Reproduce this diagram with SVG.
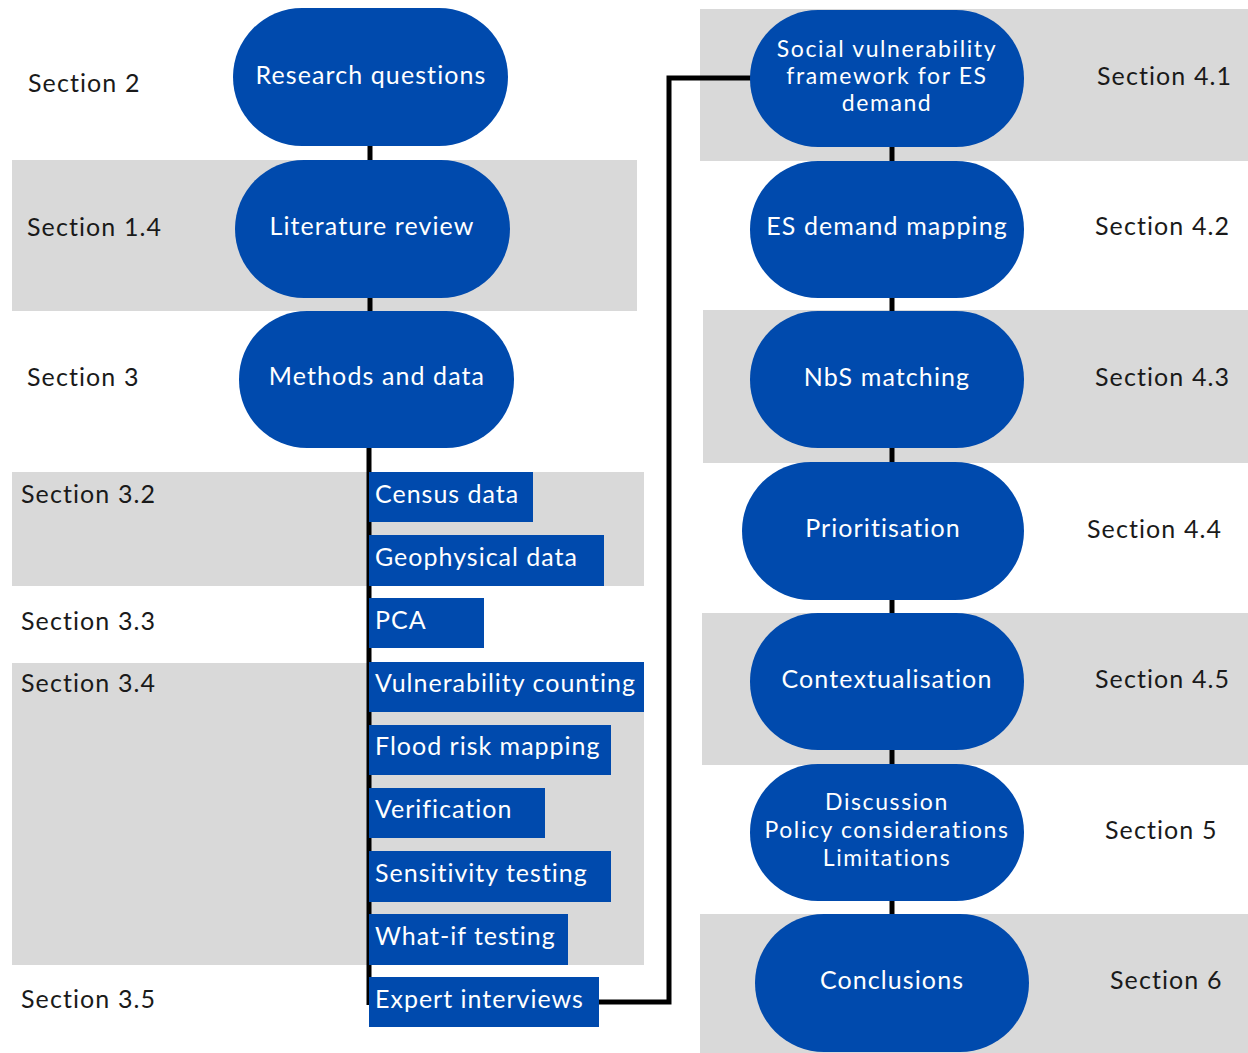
<svg xmlns="http://www.w3.org/2000/svg" width="1248" height="1053" viewBox="0 0 1248 1053">
  <style>
    .band { fill: #d9d9d9; }
    .pill { fill: #004aad; }
    .box { fill: #004aad; }
    .ptxt { font-family: Lato, "Liberation Sans", sans-serif; font-size: 25px; fill: #ffffff; text-anchor: middle; letter-spacing: 1.1px; }
    .mtxt { font-family: Lato, "Liberation Sans", sans-serif; font-size: 23px; fill: #ffffff; text-anchor: middle; letter-spacing: 1.6px; }
    .btxt { font-family: Lato, "Liberation Sans", sans-serif; font-size: 25px; fill: #ffffff; letter-spacing: 1px; }
    .sec { font-family: Lato, "Liberation Sans", sans-serif; font-size: 25px; fill: #1a1a1a; letter-spacing: 1.1px; }
    .wire { fill: none; stroke: #000000; stroke-width: 5; }
  </style>
  <rect width="1248" height="1053" fill="#ffffff"/>

  <!-- shaded section bands -->
  <g id="bands">
    <rect class="band" x="12" y="160" width="625" height="151"/>
    <rect class="band" x="12" y="472" width="632" height="114"/>
    <rect class="band" x="12" y="663" width="632" height="302"/>
    <rect class="band" x="700" y="9" width="548" height="152"/>
    <rect class="band" x="703" y="310" width="545" height="153"/>
    <rect class="band" x="702" y="613" width="546" height="152"/>
    <rect class="band" x="700" y="914" width="548" height="139"/>
  </g>

  <!-- connectors -->
  <g id="connectors">
    <line class="wire" x1="370" y1="140" x2="370" y2="165"/>
    <line class="wire" x1="370" y1="292" x2="370" y2="316"/>
    <line class="wire" x1="369" y1="440" x2="369" y2="1005"/>
    <polyline class="wire" points="596,1002 669,1002 669,78 755,78"/>
    <line class="wire" x1="892" y1="140" x2="892" y2="166"/>
    <line class="wire" x1="892" y1="292" x2="892" y2="316"/>
    <line class="wire" x1="892" y1="443" x2="892" y2="467"/>
    <line class="wire" x1="892" y1="594" x2="892" y2="618"/>
    <line class="wire" x1="892" y1="744" x2="892" y2="769"/>
    <line class="wire" x1="892" y1="895" x2="892" y2="919"/>
  </g>

  <!-- left column: main steps -->
  <g id="research-questions">
    <rect class="pill" x="233" y="8" width="275" height="138" rx="69"/>
    <text class="ptxt" x="371" y="84">Research questions</text>
  </g>
  <g id="literature-review">
    <rect class="pill" x="235" y="160" width="275" height="138" rx="69"/>
    <text class="ptxt" x="372" y="235">Literature review</text>
  </g>
  <g id="methods-and-data">
    <rect class="pill" x="239" y="311" width="275" height="137" rx="68"/>
    <text class="ptxt" x="377" y="385">Methods and data</text>
  </g>

  <!-- left column: method sub-steps -->
  <g id="census-data">
    <rect class="box" x="369" y="472" width="164" height="50"/>
    <text class="btxt" x="375" y="503">Census data</text>
  </g>
  <g id="geophysical-data">
    <rect class="box" x="369" y="535" width="235" height="51"/>
    <text class="btxt" x="375" y="566">Geophysical data</text>
  </g>
  <g id="pca">
    <rect class="box" x="369" y="598" width="115" height="50"/>
    <text class="btxt" x="375" y="629">PCA</text>
  </g>
  <g id="vulnerability-counting">
    <rect class="box" x="369" y="662" width="275" height="50"/>
    <text class="btxt" x="375" y="692">Vulnerability counting</text>
  </g>
  <g id="flood-risk-mapping">
    <rect class="box" x="369" y="725" width="242" height="50"/>
    <text class="btxt" x="375" y="755">Flood risk mapping</text>
  </g>
  <g id="verification">
    <rect class="box" x="369" y="788" width="176" height="50"/>
    <text class="btxt" x="375" y="818">Verification</text>
  </g>
  <g id="sensitivity-testing">
    <rect class="box" x="369" y="851" width="242" height="51"/>
    <text class="btxt" x="375" y="882">Sensitivity testing</text>
  </g>
  <g id="what-if-testing">
    <rect class="box" x="369" y="914" width="199" height="51"/>
    <text class="btxt" x="375" y="945">What-if testing</text>
  </g>
  <g id="expert-interviews">
    <rect class="box" x="369" y="977" width="230" height="50"/>
    <text class="btxt" x="375" y="1008">Expert interviews</text>
  </g>

  <!-- right column: results and closing steps -->
  <g id="social-vulnerability-framework">
    <rect class="pill" x="750" y="10" width="274" height="137" rx="68"/>
    <text class="mtxt" x="887" y="57">Social vulnerability</text>
    <text class="mtxt" x="887" y="84">framework for ES</text>
    <text class="mtxt" x="887" y="111">demand</text>
  </g>
  <g id="es-demand-mapping">
    <rect class="pill" x="750" y="161" width="274" height="137" rx="68"/>
    <text class="ptxt" x="887" y="235">ES demand mapping</text>
  </g>
  <g id="nbs-matching">
    <rect class="pill" x="750" y="311" width="274" height="137" rx="68"/>
    <text class="ptxt" x="887" y="386">NbS matching</text>
  </g>
  <g id="prioritisation">
    <rect class="pill" x="742" y="462" width="282" height="138" rx="69"/>
    <text class="ptxt" x="883" y="537">Prioritisation</text>
  </g>
  <g id="contextualisation">
    <rect class="pill" x="750" y="613" width="274" height="137" rx="68"/>
    <text class="ptxt" x="887" y="688">Contextualisation</text>
  </g>
  <g id="discussion">
    <rect class="pill" x="750" y="764" width="274" height="137" rx="68"/>
    <text class="mtxt" x="887" y="810">Discussion</text>
    <text class="mtxt" x="887" y="838">Policy considerations</text>
    <text class="mtxt" x="887" y="866">Limitations</text>
  </g>
  <g id="conclusions">
    <rect class="pill" x="755" y="914" width="274" height="138" rx="69"/>
    <text class="ptxt" x="892" y="989">Conclusions</text>
  </g>

  <!-- section references -->
  <g id="section-labels">
    <text class="sec" x="28" y="92">Section 2</text>
    <text class="sec" x="27" y="236">Section 1.4</text>
    <text class="sec" x="27" y="386">Section 3</text>
    <text class="sec" x="21" y="503">Section 3.2</text>
    <text class="sec" x="21" y="630">Section 3.3</text>
    <text class="sec" x="21" y="692">Section 3.4</text>
    <text class="sec" x="21" y="1008">Section 3.5</text>
    <text class="sec" x="1097" y="85">Section 4.1</text>
    <text class="sec" x="1095" y="235">Section 4.2</text>
    <text class="sec" x="1095" y="386">Section 4.3</text>
    <text class="sec" x="1087" y="538">Section 4.4</text>
    <text class="sec" x="1095" y="688">Section 4.5</text>
    <text class="sec" x="1105" y="839">Section 5</text>
    <text class="sec" x="1110" y="989">Section 6</text>
  </g>
</svg>
